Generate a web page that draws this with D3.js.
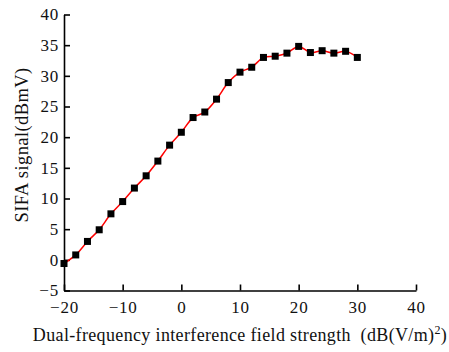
<!DOCTYPE html>
<html>
<head>
<meta charset="utf-8">
<script src="https://cdn.jsdelivr.net/npm/d3@7"></script>
<style>
  body { margin: 0; background: #fff; }
  text { font-family: "Liberation Serif", "Times New Roman", serif; fill: #111; }
</style>
</head>
<body>
<svg id="chart" width="449" height="352"></svg>
<script>
// field strength, dB(V/m)^2
const fieldStrength = [-20, -18, -16, -14, -12, -10, -8, -6, -4, -2, 0, 2, 4, 6, 8, 10,
                       12, 14, 16, 18, 20, 22, 24, 26, 28, 30];
// SIFA signal, dBmV
const sifaSignal = [-0.6, 0.8, 3.0, 4.9, 7.5, 9.5, 11.7, 13.7, 16.1, 18.7, 20.8, 23.2, 24.1,
                    26.2, 28.9, 30.6, 31.4, 33.0, 33.2, 33.7, 34.8, 33.8, 34.1, 33.7, 34.0, 33.0];
const xTicks = [-20, -10, 0, 10, 20, 30, 40];
const yTicks = [-5, 0, 5, 10, 15, 20, 25, 30, 35, 40];

const svg = d3.select('#chart');
const plotLeft = 64, plotRight = 416, plotTop = 14.5, plotBottom = 290.5;

const x = d3.scaleLinear().domain([-20, 40]).range([plotLeft, plotRight]);
const y = d3.scaleLinear().domain([-5, 40]).range([plotBottom, plotTop]);

const pts = fieldStrength.map((d, i) => [d, sifaSignal[i]]);
const fmt = d => d < 0 ? '\u2212' + Math.abs(d) : d;

// axes (ticks point inward)
const xAxis = svg.append('g')
  .attr('transform', 'translate(0,' + plotBottom + ')')
  .call(d3.axisBottom(x).tickValues(xTicks).tickSizeInner(-6).tickSizeOuter(0).tickFormat(fmt));
xAxis.selectAll('text').attr('y', 10).attr('dy', '0.71em')
  .style('font-size', '17px').style('letter-spacing', '0.8px');

const yAxis = svg.append('g')
  .attr('transform', 'translate(' + plotLeft + ',0)')
  .call(d3.axisLeft(y).tickValues(yTicks).tickSizeInner(-6).tickSizeOuter(0).tickFormat(fmt));
yAxis.selectAll('text').attr('x', -5)
  .style('font-size', '17px').style('letter-spacing', '0.8px');

svg.selectAll('.domain, .tick line').attr('stroke', '#000').attr('stroke-width', 1.6);

// fitted curve
const line = d3.line()
  .x(d => x(d[0]))
  .y(d => y(d[1]))
  .curve(d3.curveCatmullRom.alpha(0.5));

svg.append('path')
  .datum(pts)
  .attr('fill', 'none')
  .attr('stroke', '#ff0000')
  .attr('stroke-width', 1.5)
  .attr('d', line);

// markers
const s = 7;
svg.selectAll('rect.pt')
  .data(pts)
  .enter().append('rect')
  .attr('class', 'pt')
  .attr('x', d => x(d[0]) - s / 2)
  .attr('y', d => y(d[1]) - s / 2)
  .attr('width', s)
  .attr('height', s)
  .attr('fill', '#000');

// titles
const xt = svg.append('text')
  .attr('x', 240)
  .attr('y', 341)
  .attr('text-anchor', 'middle')
  .style('font-size', '18px')
  .style('letter-spacing', '0.35px');
xt.append('tspan').text('Dual-frequency interference field strength\u00a0\u00a0(dB(V/m)');
xt.append('tspan').attr('dy', -7).style('font-size', '12px').text('2');
xt.append('tspan').attr('dy', 7).text(')');

svg.append('text')
  .attr('transform', 'translate(28,145) rotate(-90)')
  .attr('text-anchor', 'middle')
  .style('font-size', '18.5px')
  .style('letter-spacing', '0.4px')
  .text('SIFA signal(dBmV)');
</script>
</body>
</html>
